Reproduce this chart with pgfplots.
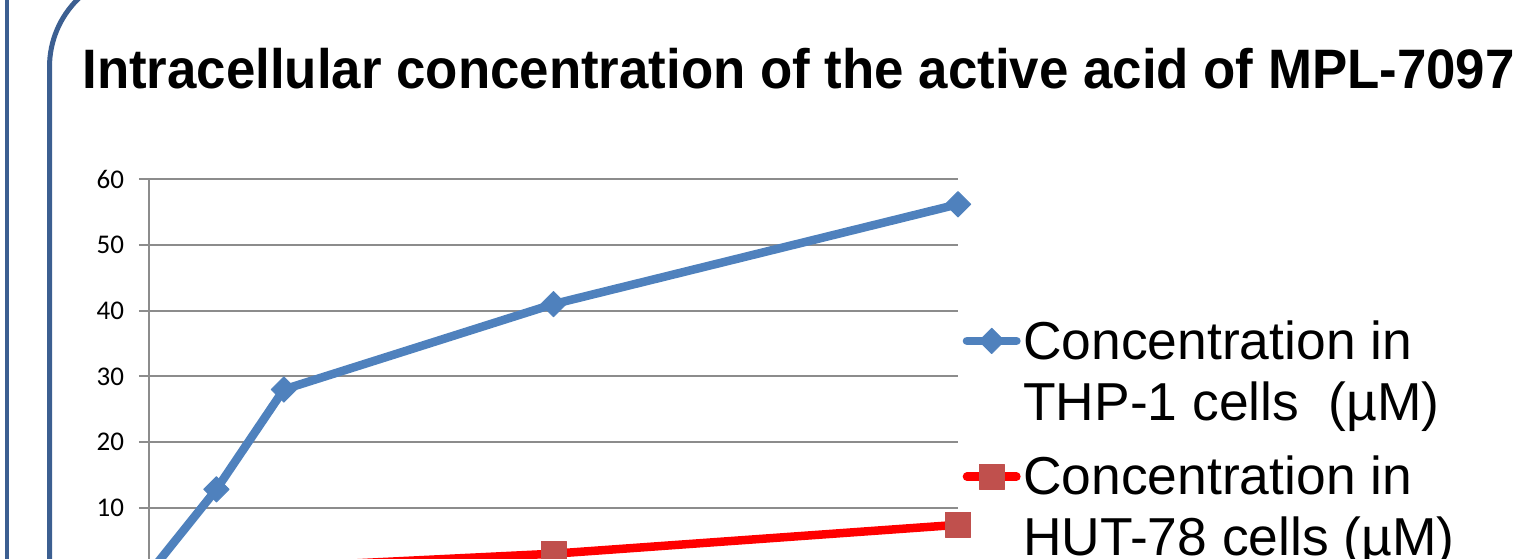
\documentclass[border=0pt]{standalone}
\usepackage{pgfplots}
\pgfplotsset{compat=1.18}
\usepackage{fontspec}
\setmainfont{Liberation Sans}
\newfontfamily\tickfont{Carlito}
\newfontfamily\titlefont[FakeStretch=0.95]{Liberation Sans}
\definecolor{bluel}{HTML}{4F81BD}
\definecolor{redm}{HTML}{C0504D}
\definecolor{gridc}{HTML}{8C8C8C}
\definecolor{framec}{HTML}{3C5F91}
\begin{document}
\begin{tikzpicture}
\path[use as bounding box] (0,0) rectangle (763.5pt,-279pt);
\clip (0,0) rectangle (763.5pt,-279pt);
\begin{scope}[x=0.5pt,y=-0.5pt]
\draw[framec, line width=2pt] (7,-10) -- (7,600);
\draw[framec, line width=2.5pt] (49.5,600) -- (49.5,67) arc[start angle=180,end angle=270,radius=95.4] -- (1700,-28.4);
\end{scope}
\begin{axis}[
  at={(74.5pt,-286.7pt)}, anchor=south west,
  scale only axis, width=404.5pt, height=197.05pt,
  xmin=0, xmax=24, ymin=0, ymax=60,
  axis lines*=left,
  axis line style={gridc, line width=1pt},
  ytick={0,10,...,60}, xtick={0,2,4,12,24},
  ymajorgrids, grid style={gridc, line width=1pt},
  tick align=outside, major tick length=5pt,
  tick style={gridc, line width=1pt},
  /pgf/number format/assume math mode=true,
  ticklabel style={font=\tickfont\fontsize{13.5}{14}\selectfont},
  yticklabel style={xshift=-4pt},
  clip=false,
  title={Intracellular concentration of the active acid of MPL-7097},
  title style={at={(axis description cs:-0.0828,1.2012)}, anchor=base west, inner sep=0pt, font=\titlefont\bfseries\fontsize{27.8}{30}\selectfont},
  legend style={at={(axis description cs:1.0058,0.6417)}, anchor=north west, draw=none, fill=none, inner sep=0pt, outer sep=0pt,
    font=\fontsize{26.7}{30.5}\selectfont, cells={anchor=base west, align=left}, nodes={inner sep=0pt}, row sep=16.5pt,
    /tikz/every odd column/.style={column sep=1.3pt}},
  legend image code/.code={\draw[mark repeat=2,mark phase=2,#1] plot coordinates {(0pt,39.65pt)(12.375pt,39.65pt)(24.75pt,39.65pt)};},
]
\addplot[color=bluel, line width=4.25pt, line join=round, line cap=round, mark=square*, mark size=4.5pt,
  mark options={rotate=45, fill=bluel, draw=bluel, line width=0.4pt}]
  coordinates {(0,0) (2,12.8) (4,28.0) (12,41.0) (24,56.2)};
\addlegendentry{Concentration in\\THP-1 cells\ \ (µM)}
\addplot[color=red, line width=4.25pt, line join=round, line cap=round, mark=square*, mark size=6.3pt,
  mark options={fill=redm, draw=redm, line width=0.4pt}]
  coordinates {(0,0) (12,3.0) (24,7.4)};
\addlegendentry{Concentration in\\HUT-78 cells (µM)}
\end{axis}
\end{tikzpicture}
\end{document}
